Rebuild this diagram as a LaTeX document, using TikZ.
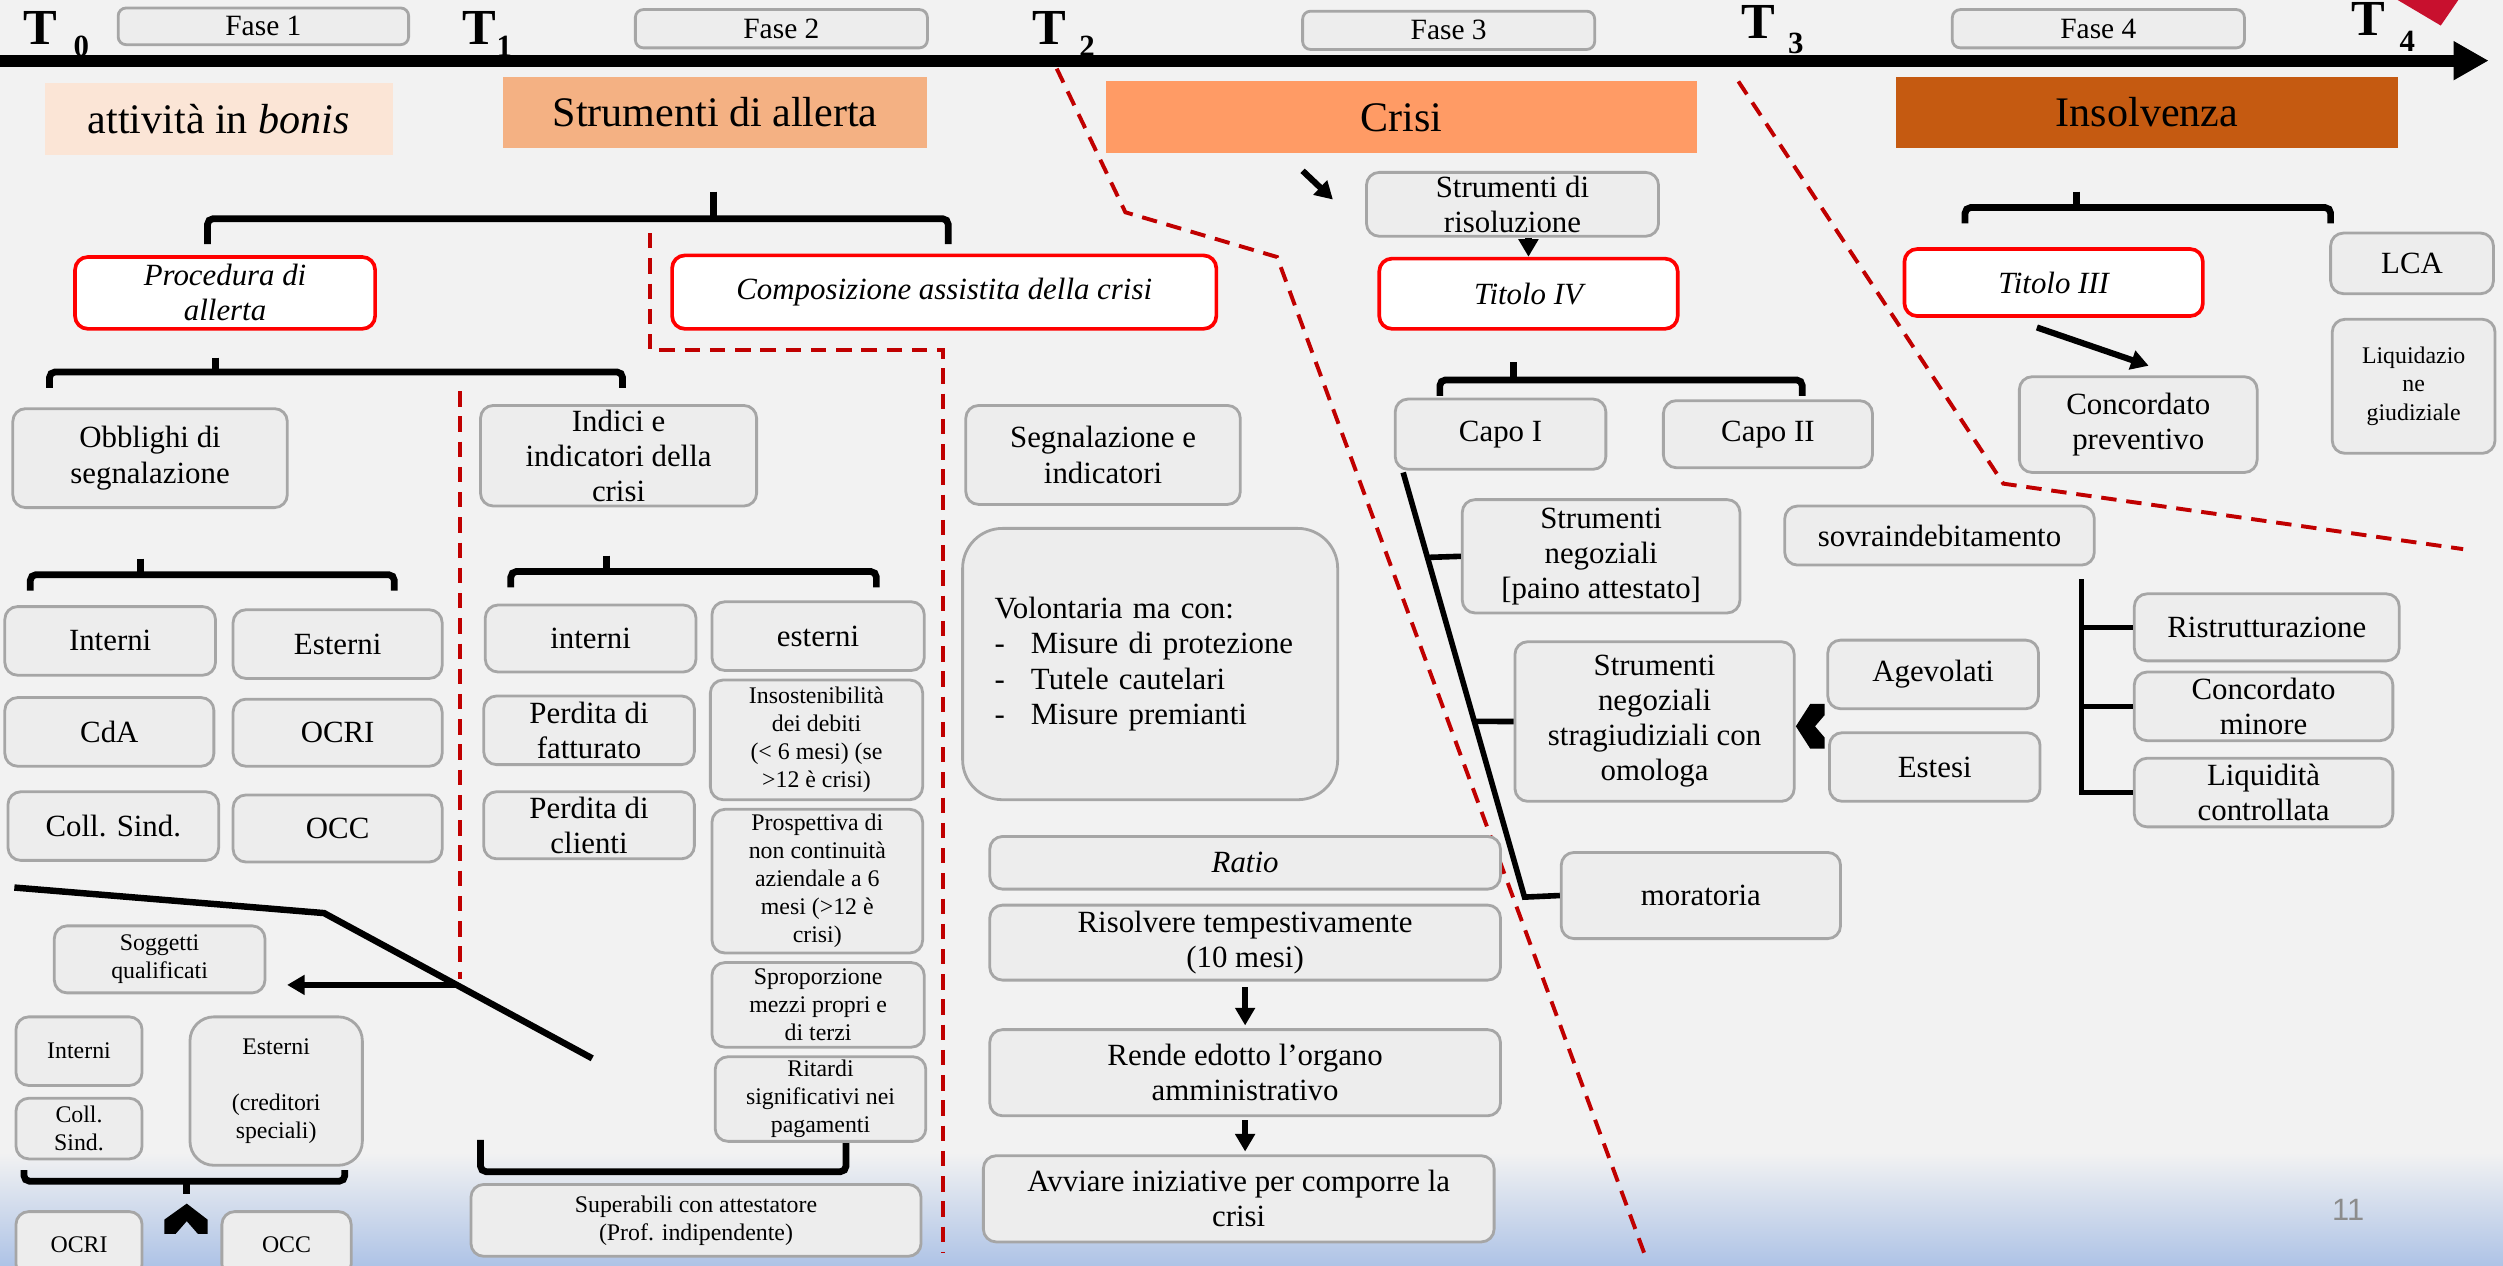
\documentclass[tikz,border=0pt]{standalone}
\usepackage{fontspec}
\setmainfont{Liberation Serif}
\newfontfamily\numfont{Liberation Sans}
\usetikzlibrary{arrows.meta,calc}
\definecolor{bgc}{HTML}{F2F2F2}
\definecolor{bgblue}{HTML}{AEC3E6}
\definecolor{boxfill}{HTML}{EDEDED}
\definecolor{boxline}{HTML}{A6A6A6}
\definecolor{dashred}{HTML}{C00000}
\definecolor{bonis}{HTML}{FBE5D6}
\definecolor{allerta}{HTML}{F4B183}
\definecolor{crisi}{HTML}{FF9B65}
\definecolor{insolv}{HTML}{C55A11}
\definecolor{tri}{HTML}{C8102E}
\definecolor{pgray}{HTML}{8C8C8C}

\begin{document}
\begin{tikzpicture}[
 x=0.02cm, y=-0.02cm,
 box/.style={rectangle, draw=boxline, fill=boxfill, line width=1pt, rounded corners=0.16cm, align=center, inner sep=1pt, font=\fontsize{11}{12.5}\selectfont},
 sbox/.style={box, font=\fontsize{8.5}{10}\selectfont},
 fase/.style={box, rounded corners=0.1cm, font=\fontsize{10.5}{12}\selectfont},
 rbox/.style={box, draw=red, fill=white, line width=1.3pt, font=\fontsize{11}{12.5}\selectfont\itshape},
 band/.style={rectangle, inner sep=0pt, font=\fontsize{15}{17}\selectfont},
 tlab/.style={inner sep=0pt, font=\fontsize{18}{18}\selectfont\bfseries},
 tsub/.style={inner sep=0pt, font=\fontsize{11}{11}\selectfont\bfseries},
 brk/.style={line width=2.4pt, rounded corners=2pt},
 tree/.style={line width=2pt},
 sep/.style={dashred, line width=1.4pt, dash pattern=on 5.5pt off 3.5pt},
 thk/.style={-{Triangle[length=0.22cm,width=0.24cm]}, line width=2.2pt},
]
\useasboundingbox (0,0) rectangle (1568,793);
\fill[bgc] (0,0) rectangle (1568,793);
\shade[top color=bgc, bottom color=bgblue] (0,722) rectangle (1568,793);

% timeline
\coordinate (tlA) at (0,38);
\coordinate (tlB) at (1559,38);
\draw[line width=4.3pt, -{Triangle[length=0.44cm,width=0.46cm]}] (tlA) -- (tlB);
\fill[tri] (1502,0) -- (1540,0) -- (1529,16) -- cycle;
\node[tlab] (t0) at (25.5,17.7) {T};
\node[tsub] (t0s) at (51,29) {0};
\node[tlab] (t1) at (300.5,17.7) {T};
\node[tsub] (t1s) at (316,29) {1};
\node[tlab] (t2) at (657.5,17.7) {T};
\node[tsub] (t2s) at (681,29) {2};
\node[tlab] (t3) at (1101.5,14) {T};
\node[tsub] (t3s) at (1125,27) {3};
\node[tlab] (t4) at (1483.5,12) {T};
\node[tsub] (t4s) at (1508,26) {4};
\node[fase, minimum width=3.64cm, minimum height=0.46cm] (f1) at (165,16.5) {Fase 1};
\node[fase, minimum width=3.66cm, minimum height=0.48cm] (f2) at (489.5,18) {Fase 2};
\node[fase, minimum width=3.66cm, minimum height=0.48cm] (f3) at (907.5,19) {Fase 3};
\node[fase, minimum width=3.66cm, minimum height=0.48cm] (f4) at (1314.5,18) {Fase 4};
\node[band, fill=bonis, minimum width=4.36cm, minimum height=0.9cm] (bonis) at (137,74.5) {attività in \textit{bonis}};
\node[band, fill=allerta, minimum width=5.32cm, minimum height=0.9cm] (allerta) at (448,70.5) {Strumenti di allerta};
\node[band, fill=crisi, minimum width=7.4cm, minimum height=0.9cm] (crisi) at (878,73.5) {Crisi};
\node[band, fill=insolv, minimum width=6.28cm, minimum height=0.9cm] (insolv) at (1345,70.5) {Insolvenza};

% separators
\draw[sep] (662,43) -- (705,133) -- (800,161) -- (1030,785);
\draw[sep] (1089,51) -- (1255,303) -- (1543,344);
\draw[sep] (407,146) -- (407,219) -- (591,219) -- (591,785);
\draw[sep] (288,245) -- (288,613);

% brackets
\draw[brk] (130,153) -- (130,137) -- (594,137) -- (594,153);
\draw[brk] (447,120) -- (447,137);
\draw[brk] (31,243) -- (31,233) -- (390,233) -- (390,243);
\draw[brk] (135,224) -- (135,233);
\draw[brk] (19,370) -- (19,360) -- (247,360) -- (247,370);
\draw[brk] (88,350) -- (88,360);
\draw[brk] (320,368) -- (320,358) -- (549,358) -- (549,368);
\draw[brk] (380,348) -- (380,358);
\draw[brk] (15,733) -- (15,740) -- (216,740) -- (216,733);
\draw[brk] (117,740) -- (117,748);
\draw[brk] (301,714) -- (301,734) -- (530,734) -- (530,716);
\draw[brk] (902,248) -- (902,238) -- (1129,238) -- (1129,248);
\draw[brk] (948,227) -- (948,238);
\draw[brk] (1231,140) -- (1231,130) -- (1460,130) -- (1460,140);
\draw[brk] (1301,120) -- (1301,130);

% allerta
\node[rbox, minimum width=3.76cm, minimum height=0.9cm] (proc) at (141,183.5) {Procedura di\\allerta};
\node[rbox, minimum width=6.82cm, minimum height=0.92cm] (compos) at (591.5,183) {Composizione assistita della crisi};
\node[box, minimum width=3.44cm, minimum height=1.24cm] (obbl) at (94,287) {Obblighi di\\segnalazione};
\node[box, minimum width=3.46cm, minimum height=1.26cm] (indici) at (387.5,285.5) {Indici e\\indicatori della\\crisi};
\node[box, minimum width=2.64cm, minimum height=0.86cm] (intA) at (69,401.5) {Interni};
\node[box, minimum width=2.62cm, minimum height=0.86cm] (estA) at (211.5,403.5) {Esterni};
\node[box, minimum width=2.62cm, minimum height=0.86cm] (cda) at (68.5,458.5) {CdA};
\node[box, minimum width=2.62cm, minimum height=0.84cm] (ocriA) at (211.5,459) {OCRI};
\node[box, minimum width=2.64cm, minimum height=0.86cm] (collA) at (71,517.5) {Coll. Sind.};
\node[box, minimum width=2.62cm, minimum height=0.84cm] (occA) at (211.5,519) {OCC};
\node[box, minimum width=2.64cm, minimum height=0.84cm] (intB) at (370,400) {interni};
\node[box, minimum width=2.66cm, minimum height=0.86cm] (estB) at (512.5,398.5) {esterni};
\node[box, minimum width=2.64cm, minimum height=0.86cm] (perdF) at (369,457.5) {Perdita di\\fatturato};
\node[sbox, minimum width=2.66cm, minimum height=1.5cm] (insost) at (511.5,463.5) {Insostenibilità\\dei debiti\\(< 6 mesi) (se\\>12 è crisi)};
\node[box, minimum width=2.64cm, minimum height=0.84cm] (perdC) at (369,517) {Perdita di\\clienti};
\node[sbox, minimum width=2.64cm, minimum height=1.8cm] (prosp) at (512,552) {Prospettiva di\\non continuità\\aziendale a 6\\mesi (>12 è\\crisi)};
\node[sbox, minimum width=2.66cm, minimum height=1.06cm] (sprop) at (512.5,629.5) {Sproporzione\\mezzi propri e\\di terzi};
\node[sbox, minimum width=2.64cm, minimum height=1.06cm] (ritardi) at (514,688.5) {Ritardi\\significativi nei\\pagamenti};
\node[sbox, minimum width=5.64cm, minimum height=0.9cm] (superab) at (436,764.5) {Superabili con attestatore\\(Prof. indipendente)};
\node[sbox, minimum width=2.64cm, minimum height=0.84cm] (sogg) at (100,601) {Soggetti\\qualificati};
\node[sbox, minimum width=1.58cm, minimum height=0.86cm] (intC) at (49.5,658.5) {Interni};
\node[sbox, minimum width=1.58cm, minimum height=0.76cm] (collC) at (49.5,707) {Coll.\\Sind.};
\node[sbox, rounded corners=0.3cm, minimum width=2.16cm, minimum height=1.86cm] (estC) at (173,683.5) {Esterni\\[10pt](creditori\\speciali)};
\node[sbox, minimum width=1.58cm, minimum height=0.82cm] (ocriC) at (49.5,779.5) {OCRI};
\node[sbox, minimum width=1.62cm, minimum height=0.82cm] (occC) at (179.5,779.5) {OCC};

% composizione
\node[box, minimum width=3.44cm, minimum height=1.24cm] (segn) at (691,285) {Segnalazione e\\indicatori};
\node[box, rounded corners=0.5cm, minimum width=4.7cm, minimum height=3.4cm, text width=3.9cm, inner xsep=0.4cm, align=left] (volont) at (720.5,416) {Volontaria ma con:\\\makebox[13pt][l]{-}Misure di protezione\\\makebox[13pt][l]{-}Tutele cautelari\\\makebox[13pt][l]{-}Misure premianti};
\node[box, minimum width=6.4cm, minimum height=0.66cm] (ratio) at (780,540.5) {\textit{Ratio}};
\node[box, minimum width=6.4cm, minimum height=0.94cm] (risolv) at (780,590.5) {Risolvere tempestivamente\\(10 mesi)};
\node[box, minimum width=6.4cm, minimum height=1.08cm] (rende) at (780,672) {Rende edotto l’organo\\amministrativo};
\node[box, minimum width=6.4cm, minimum height=1.08cm] (avviare) at (776,751) {Avviare iniziative per comporre la\\crisi};

% crisi e insolvenza
\node[box, minimum width=3.66cm, minimum height=0.8cm] (risol) at (947.5,128) {Strumenti di\\risoluzione};
\node[rbox, minimum width=3.74cm, minimum height=0.88cm] (tit4) at (957.5,184) {Titolo IV};
\node[rbox, minimum width=3.74cm, minimum height=0.84cm] (tit3) at (1286.5,177) {Titolo III};
\node[box, minimum width=2.04cm, minimum height=0.76cm] (lca) at (1511,165) {LCA};
\node[sbox, minimum width=2.04cm, minimum height=1.68cm] (liqg) at (1512,242) {Liquidazio\\ne\\giudiziale};
\node[box, minimum width=2.98cm, minimum height=1.2cm] (concprev) at (1339.5,266) {Concordato\\preventivo};
\node[box, minimum width=2.64cm, minimum height=0.88cm] (capo1) at (940,272) {Capo I};
\node[box, minimum width=2.62cm, minimum height=0.84cm] (capo2) at (1107.5,272) {Capo II};
\node[box, minimum width=3.48cm, minimum height=1.42cm] (negA) at (1003,348.5) {Strumenti\\negoziali\\{[paino attestato]}};
\node[box, minimum width=3.88cm, minimum height=0.74cm] (sovra) at (1215,335.5) {sovraindebitamento};
\node[box, minimum width=3.5cm, minimum height=2cm] (negB) at (1036.5,452) {Strumenti\\negoziali\\stragiudiziali con\\omologa};
\node[box, minimum width=2.64cm, minimum height=0.86cm] (agev) at (1211,422.5) {Agevolati};
\node[box, minimum width=2.64cm, minimum height=0.86cm] (estesi) at (1212,480.5) {Estesi};
\node[box, minimum width=3.32cm, minimum height=0.84cm] (ristr) at (1420,393) {Ristrutturazione};
\node[box, minimum width=3.24cm, minimum height=0.86cm] (concmin) at (1418,442.5) {Concordato\\minore};
\node[box, minimum width=3.24cm, minimum height=0.86cm] (liqc) at (1418,496.5) {Liquidità\\controllata};
\node[box, minimum width=3.5cm, minimum height=1.08cm] (morat) at (1065.5,561) {moratoria};

% trees
\coordinate (cpA) at (879,296);
\coordinate (cpB) at (955,562);
\draw[tree] (cpA) -- (cpB) -- (morat.west);
\draw[tree] ($(cpA)!0.2!(cpB)$) -- (negA.west);
\draw[tree] ($(cpA)!0.586!(cpB)$) -- (negB.west);
\coordinate (svA) at (1304,363);
\draw[tree] (svA) -- (svA |- liqc.west) -- (liqc.west);
\draw[tree] (svA |- ristr.west) -- (ristr.west);
\draw[tree] (svA |- concmin.west) -- (concmin.west);
\coordinate (slA) at (9,556);
\coordinate (slB) at (203,572);
\coordinate (slC) at (371,663);
\coordinate (slX) at (287,617);
\draw[tree, line width=2.3pt] (slA) -- (slB) -- (slC);

% arrows
\draw[thk, shorten >=0.26cm] (slX) -- (slX -| sogg.east);
\draw[thk, shorten <=2pt, shorten >=1pt] (risolv) -- (rende);
\draw[thk, shorten <=1pt, shorten >=1pt] (rende.south) -- (rende.south |- avviare.north);
\draw[thk] (risol.south -| tit4.north) -- (tit4.north);
\draw[thk] ([xshift=-0.21cm,yshift=-0.12cm]tit3.south) -- ([xshift=0.13cm,yshift=0.12cm]concprev.north);
\coordinate (crA) at (816,107);
\coordinate (crB) at (835,125);
\draw[thk] (crA) -- (crB);
\fill (103,773) -- (103,764) -- (117,754) -- (130,764) -- (130,773) -- (124,773) -- (117,765) -- (110,773) -- cycle;
\fill (1143,441) -- (1134,441) -- (1125,455) -- (1134,469) -- (1143,469) -- (1143,462) -- (1137,455) -- (1143,448) -- cycle;

\node[font=\numfont\fontsize{11}{11}\selectfont, text=pgray, inner sep=0pt] (pg) at (1471,758) {11};
\end{tikzpicture}
\end{document}
